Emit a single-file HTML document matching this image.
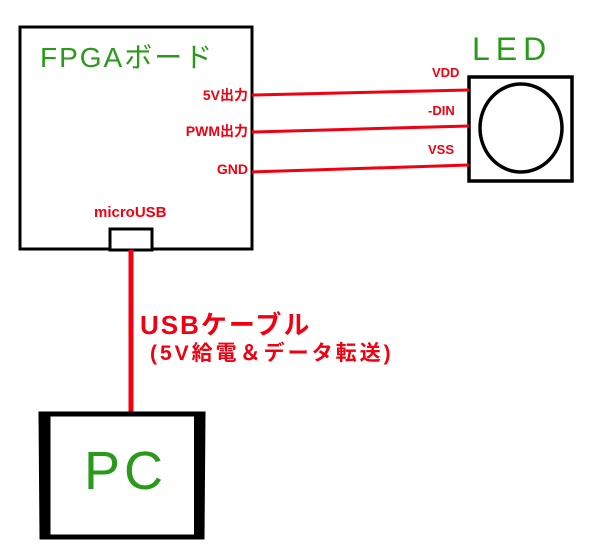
<!DOCTYPE html>
<html><head><meta charset="utf-8"><style>
body{margin:0;width:600px;height:556px;background:#fff;position:relative;overflow:hidden;font-family:"Liberation Sans","Noto Sans CJK JP",sans-serif}
.t{position:absolute;white-space:nowrap}
.r{color:#f00010}
.g{color:#2a9a1a}
</style></head><body>
<svg width="600" height="556" style="position:absolute;left:0;top:0">
<rect x="20" y="27" width="232" height="222" fill="none" stroke="#000" stroke-width="3"/>
<rect x="110" y="229" width="42" height="21" fill="#fff" stroke="#000" stroke-width="3"/>
<rect x="469" y="77" width="103" height="104" fill="none" stroke="#000" stroke-width="3.5"/>
<ellipse cx="521" cy="128" rx="41" ry="44" fill="none" stroke="#000" stroke-width="3.5"/>
<g stroke="#f00010" stroke-width="3">
<line x1="252" y1="95" x2="469" y2="90"/>
<line x1="252" y1="132" x2="469" y2="126"/>
<line x1="252" y1="172" x2="469" y2="165"/>
</g>
<line x1="131" y1="250" x2="131" y2="412" stroke="#f00010" stroke-width="5"/>
<path d="M41 414 L203 414 L202 537 L42 537 Z" fill="none" stroke="#000" stroke-width="5"/>
<line x1="46" y1="416" x2="46" y2="536" stroke="#000" stroke-width="9"/>
<line x1="198" y1="416" x2="198" y2="536" stroke="#000" stroke-width="8"/>
</svg>
<div class="t g" style="left:40px;top:36px;font-size:28px;letter-spacing:2px">FPGAボード</div>
<div class="t g" style="left:472px;top:31px;font-size:32px;letter-spacing:6px">LED</div>
<div class="t r" style="right:352px;top:85px;font-size:14px;font-weight:bold">5V出力</div>
<div class="t r" style="right:352px;top:121px;font-size:14px;font-weight:bold">PWM出力</div>
<div class="t r" style="right:352px;top:161px;font-size:14px;font-weight:bold">GND</div>
<div class="t r" style="left:432px;top:65px;font-size:13px;font-weight:bold">VDD</div>
<div class="t r" style="left:428px;top:103px;font-size:13px;font-weight:bold">-DIN</div>
<div class="t r" style="left:428px;top:142px;font-size:13px;font-weight:bold">VSS</div>
<div class="t r" style="left:94px;top:204px;font-size:15px;font-weight:bold">microUSB</div>
<div class="t r" style="left:140px;top:305px;font-size:26px;font-weight:bold;letter-spacing:2px">USBケーブル</div>
<div class="t r" style="left:150px;top:337px;font-size:21px;font-weight:bold;letter-spacing:3px">(5V給電＆データ転送)</div>
<div class="t g" style="left:84px;top:440px;font-size:54px;letter-spacing:4px">PC</div>
</body></html>
